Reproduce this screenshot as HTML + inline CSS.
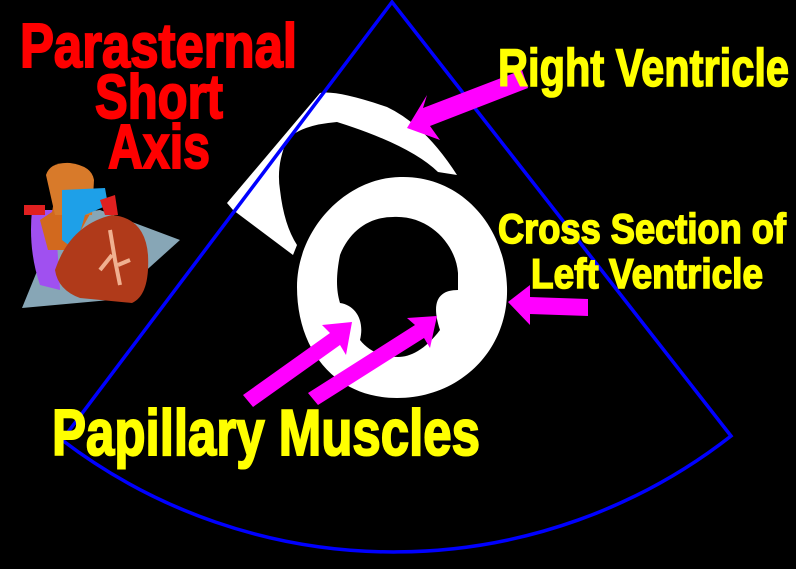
<!DOCTYPE html>
<html><head><meta charset="utf-8"><style>
html,body{margin:0;padding:0;background:#000;}
svg{display:block;}
text{font-family:"Liberation Sans Narrow","Liberation Sans",sans-serif;font-weight:bold;}
</style></head><body>
<svg width="796" height="569" viewBox="0 0 796 569" xmlns="http://www.w3.org/2000/svg">
<rect width="796" height="569" fill="#000"/>
<path d="M227,203 L320,93 Q337,90 387,107 Q425,125 457,175 L438,172 Q410,145 337,122 Q300,125 287,140 Q276,165 280,190 Q284,225 297,245 L293,255 L233,210 Z" fill="#fff"/>
<path fill="#fff" fill-rule="evenodd" d="M400,177 C460,175 505,225 507,287 C509,350 460,398 397,398 C335,398 297,350 297,287 C297,230 345,178 400,177 Z
M393,217 C430,215 456,245 458,273 L458,290 C440,290 430,300 440,330 C425,350 410,357 398,357 C380,357 368,350 360,340 C365,320 355,305 340,303 C336,290 336,275 340,255 C350,230 370,217 393,217 Z"/>
<path d="M392,2 L62,440 A548,548 0 0 0 731,436 Z" fill="none" stroke="#0000ff" stroke-width="3.5"/>
<g fill="#ff00ff">
<polygon points="407,128 427,95 423,108 522,70 528,88 430,126 440,140"/>
<polygon points="508,302 530,285 530,297 588,299 588,316 530,314 530,325"/>
<polygon points="352,322 346,355 340,345 253,407 243,395 330,333 322,325"/>
<polygon points="437,316 430,348 424,338 318,405 308,393 415,325 407,318"/>
</g>
<g>
<polygon points="22,308 60,215 100,210 180,240 130,285 110,300" fill="#9fc3d6" opacity="0.85"/>
<path d="M32,210 Q28,250 40,285 L60,290 L55,210 Z" fill="#a050f0"/>
<path d="M40,220 L52,212 L56,190 L90,185 L95,205 L70,250 L48,250 Z" fill="#d2691e"/>
<path d="M46,175 Q50,162 70,163 Q92,166 94,180 L92,215 L55,215 Z" fill="#d87a2a"/>
<path d="M62,190 L105,188 L108,205 L85,215 L75,250 L62,240 Z" fill="#1ea0e8"/>
<path d="M24,205 L45,205 L45,215 L24,215 Z" fill="#e02020"/>
<path d="M100,200 L115,195 L118,215 L105,215 Z" fill="#e02020"/>
<path d="M55,270 Q70,225 112,215 Q145,218 148,255 Q150,295 132,303 L80,298 Q58,290 55,270 Z" fill="#b03a1a"/>
<path d="M110,230 L115,260 L120,285 M112,255 L100,270 M118,265 L130,260" stroke="#f0b090" stroke-width="4" fill="none"/>
</g>
<g fill="#ff0000" stroke="#ff0000" stroke-width="2" font-size="62">
<text x="20" y="67" textLength="277" lengthAdjust="spacingAndGlyphs">Parasternal</text>
<text x="95" y="118" textLength="128" lengthAdjust="spacingAndGlyphs">Short</text>
<text x="108" y="168" textLength="102" lengthAdjust="spacingAndGlyphs">Axis</text>
</g>
<g fill="#ffff00" stroke="#ffff00" stroke-width="1.6">
<text x="498" y="86" font-size="53" textLength="291" lengthAdjust="spacingAndGlyphs">Right Ventricle</text>
<text x="498" y="243" font-size="42" textLength="288" lengthAdjust="spacingAndGlyphs">Cross Section of</text>
<text x="531" y="288" font-size="42" textLength="232" lengthAdjust="spacingAndGlyphs">Left Ventricle</text>
<text x="52" y="455" font-size="65" stroke-width="2" textLength="428" lengthAdjust="spacingAndGlyphs">Papillary Muscles</text>
</g>
</svg>
</body></html>
